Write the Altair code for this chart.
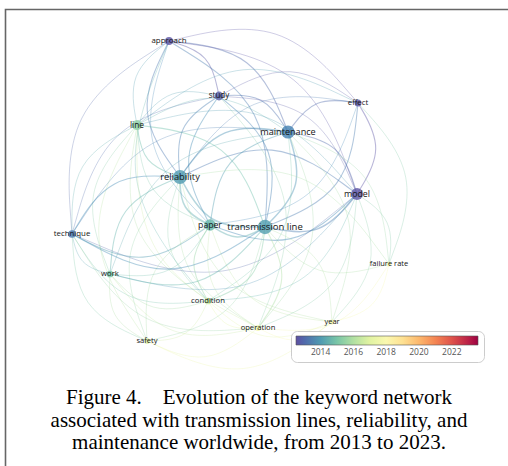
import altair as alt
import pandas as pd

# ---- node data (VOSviewer-style overlay map) ----
names = ["approach", "study", "effect", "line", "maintenance", "reliability", "model",
         "paper", "transmission line", "technique", "failure rate", "work", "condition",
         "year", "operation", "safety"]
node_x = [169, 219, 358, 137, 288, 180, 357, 210, 265, 72, 389, 110, 208, 332, 258, 147]
node_y = [41, 96, 103, 125, 132, 177, 194, 225, 227, 234, 264, 274, 301, 322, 328, 341]
node_year = [2012.6, 2012.8, 2012.6, 2015.4, 2013.5, 2014.0, 2012.6, 2014.6, 2014.1,
             2013.3, 2017.6, 2015.0, 2016.4, 2017.9, 2017.7, 2016.8]
node_occ = [18, 22, 14, 30, 50, 55, 40, 38, 60, 17, 7, 13, 13, 7, 10, 10]

# ---- links (source, target, strength) ----
edges = [
    ("reliability", "transmission line", 3), ("maintenance", "transmission line", 3),
    ("reliability", "maintenance", 3), ("paper", "transmission line", 3),
    ("reliability", "paper", 3), ("model", "transmission line", 3),
    ("model", "maintenance", 2), ("model", "reliability", 2),
    ("approach", "reliability", 2), ("approach", "transmission line", 2),
    ("approach", "maintenance", 2), ("approach", "study", 2),
    ("approach", "paper", 1), ("approach", "model", 1), ("approach", "technique", 1),
    ("approach", "effect", 1), ("approach", "line", 1), ("approach", "condition", 1),
    ("study", "maintenance", 2), ("study", "reliability", 2),
    ("study", "transmission line", 2), ("study", "paper", 2),
    ("study", "effect", 1), ("study", "model", 1), ("study", "line", 1),
    ("study", "technique", 1), ("study", "operation", 1),
    ("effect", "maintenance", 2), ("effect", "model", 2), ("effect", "transmission line", 2),
    ("effect", "reliability", 1), ("effect", "paper", 1), ("effect", "line", 1),
    ("effect", "failure rate", 1),
    ("line", "reliability", 2), ("line", "transmission line", 2),
    ("line", "maintenance", 1), ("line", "paper", 1), ("line", "model", 1),
    ("line", "technique", 1), ("line", "work", 1), ("line", "condition", 1),
    ("line", "safety", 1), ("line", "operation", 1),
    ("maintenance", "paper", 2), ("maintenance", "technique", 1),
    ("maintenance", "failure rate", 1), ("maintenance", "work", 1),
    ("maintenance", "condition", 1), ("maintenance", "operation", 1),
    ("maintenance", "year", 1),
    ("reliability", "technique", 2), ("reliability", "work", 2),
    ("reliability", "condition", 1), ("reliability", "operation", 1),
    ("reliability", "safety", 1), ("reliability", "failure rate", 1),
    ("reliability", "year", 1),
    ("model", "paper", 2), ("model", "technique", 1), ("model", "failure rate", 1),
    ("model", "work", 1), ("model", "condition", 1), ("model", "operation", 1),
    ("model", "year", 1),
    ("paper", "technique", 2), ("paper", "work", 1), ("paper", "condition", 2),
    ("paper", "operation", 1), ("paper", "safety", 1), ("paper", "year", 1),
    ("transmission line", "technique", 2), ("transmission line", "work", 2),
    ("transmission line", "condition", 2), ("transmission line", "operation", 2),
    ("transmission line", "safety", 1), ("transmission line", "failure rate", 1),
    ("transmission line", "year", 1),
    ("technique", "work", 1), ("technique", "condition", 1), ("technique", "safety", 1),
    ("technique", "operation", 1),
    ("work", "condition", 1), ("work", "safety", 1), ("work", "operation", 1),
    ("condition", "safety", 1), ("condition", "operation", 1), ("condition", "year", 1),
    ("operation", "safety", 1), ("operation", "year", 1),
    ("failure rate", "year", 1), ("failure rate", "operation", 1),
    ("safety", "year", 1),
]

legend_years = [2014, 2016, 2018, 2020, 2022]
year_domain = [2012.5, 2023.6]

caption_lines = [
    "Figure 4.\u00a0\u00a0\u00a0 Evolution of the keyword network",
    "associated with transmission lines, reliability, and",
    "maintenance worldwide, from 2013 to 2023.",
]

# ---- build tables ----
nodes = pd.DataFrame({"name": names, "x": node_x, "y": node_y,
                      "year": node_year, "occ": node_occ})

CX, CY, BEND = 230, 205, 0.3
rows = []
for i, (a, b, w) in enumerate(edges):
    ia, ib = names.index(a), names.index(b)
    x0, y0, x1, y1 = node_x[ia], node_y[ia], node_x[ib], node_y[ib]
    mx, my = (x0 + x1) / 2, (y0 + y1) / 2
    px, py = -(y1 - y0), (x1 - x0)
    if px * (mx - CX) + py * (my - CY) < 0:
        px, py = -px, -py
    yr = (node_year[ia] + node_year[ib]) / 2
    for o, (xx, yy) in enumerate([(x0, y0), (mx + BEND * px, my + BEND * py), (x1, y1)]):
        rows.append({"e": i, "o": o, "x": xx, "y": yy, "year": yr, "w": w})
links = pd.DataFrame(rows)

W, H = 508, 466
xs = alt.Scale(domain=[0, W], range=[0, W])
ys = alt.Scale(domain=[0, H], range=[0, H])


def cscale():
    return alt.Scale(scheme="spectral", reverse=True, domain=year_domain)


leg = alt.Legend(
    type="gradient",
    orient="none", legendX=291, legendY=331, direction="horizontal",
    gradientLength=182, gradientThickness=9, values=legend_years, format="d",
    labelFont="Open Sans", labelFontSize=8.5, labelColor="#555",
    gradientStrokeColor="#555", gradientStrokeWidth=0.6,
    padding=5, strokeColor="#cccccc", cornerRadius=6, fillColor="white",
    labelOffset=3,
)

edge_layer = alt.Chart(links).mark_line(interpolate="basis", opacity=0.42).encode(
    x=alt.X("x:Q", scale=xs, axis=None),
    y=alt.Y("y:Q", scale=ys, axis=None),
    detail="e:N",
    order="o:O",
    color=alt.Color("year:Q", scale=cscale(), legend=None),
    strokeWidth=alt.StrokeWidth("w:Q", scale=alt.Scale(domain=[1, 3], range=[0.7, 1.5]), legend=None),
)

node_layer = alt.Chart(nodes).mark_circle(opacity=0.8).encode(
    x=alt.X("x:Q", scale=xs, axis=None),
    y=alt.Y("y:Q", scale=ys, axis=None),
    size=alt.Size("occ:Q", scale=alt.Scale(domain=[0, 60], range=[0, 210]), legend=None),
    color=alt.Color("year:Q", scale=cscale(), legend=None),
)

# invisible carrier of the colour legend (full-opacity gradient)
legend_layer = alt.Chart(nodes).mark_circle(opacity=1, size=0).encode(
    x=alt.X("x:Q", scale=xs, axis=None),
    y=alt.Y("y:Q", scale=ys, axis=None),
    color=alt.Color("year:Q", scale=cscale(), title=None, legend=leg),
)

label_layer = alt.Chart(nodes).mark_text(
    font="Open Sans", color="#151515", baseline="middle", align="center"
).encode(
    x=alt.X("x:Q", scale=xs, axis=None),
    y=alt.Y("y:Q", scale=ys, axis=None),
    text="name:N",
    size=alt.Size("occ:Q", scale=alt.Scale(domain=[7, 60], range=[7.5, 9.5]), legend=None),
)

caption = alt.Chart(alt.Data(values=[{"t": "\n".join(caption_lines)}])).mark_text(
    font="Liberation Serif", fontSize=21, lineHeight=22.5, lineBreak="\n",
    align="center", baseline="alphabetic", color="black"
).encode(text="t:N", x=alt.value(259), y=alt.value(404))

frame = alt.Chart(alt.Data(values=[{}])).mark_rect(
    fillOpacity=0, stroke="#666666", strokeWidth=1.6
).encode(x=alt.value(5.5), x2=alt.value(540), y=alt.value(9.5), y2=alt.value(520))

chart = alt.layer(edge_layer, node_layer, legend_layer, label_layer, caption, frame).resolve_scale(
    size="independent", strokeWidth="independent", color="independent"
).resolve_legend(color="independent").properties(
    width=W, height=H, padding=0,
    autosize=alt.AutoSizeParams(type="none"),
    background="white",
).configure_view(stroke=None)

chart.save("out.html", embed_options={"renderer": "svg", "actions": False})
